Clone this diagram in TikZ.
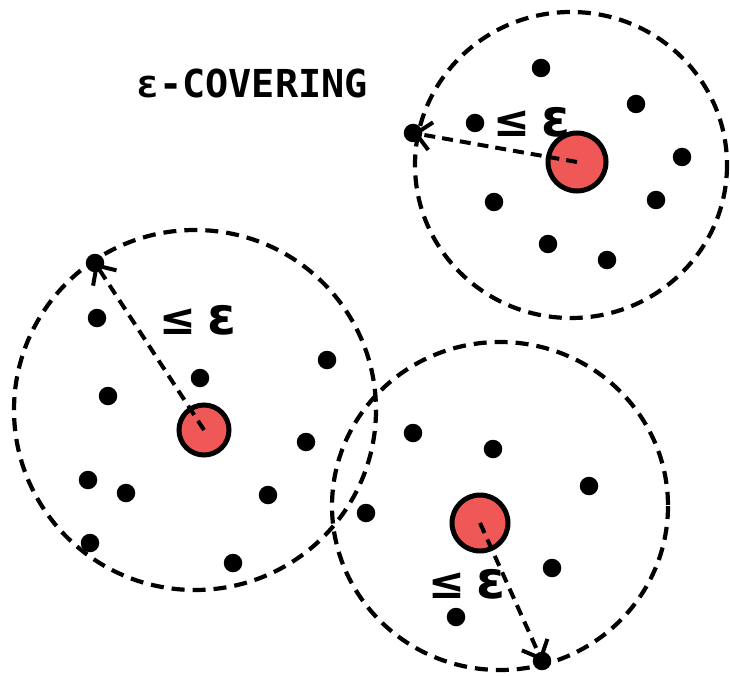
\documentclass[tikz,border=0pt]{standalone}
\usepackage{fontspec}
\setmainfont{DejaVu Sans}
\newfontfamily\monof{DejaVu Sans Mono}
\usetikzlibrary{arrows.meta}
\definecolor{redfill}{RGB}{240,88,88}
\newcommand{\leeps}{{\fontsize{44}{44}\selectfont ≤}\hspace{11pt}{\fontsize{52}{52}\selectfont ε}}
\begin{document}
\begin{tikzpicture}[x=1pt,y=-1pt,
  ring/.style={draw=black,line width=4.2pt,dash pattern=on 13pt off 8pt},
  pt/.style={circle,fill=black,inner sep=0pt,minimum size=18.5pt},
  center/.style={circle,draw=black,line width=5pt,fill=redfill,inner sep=0pt},
  radius line/.style={line width=4pt,dash pattern=on 11pt off 7pt,-{Straight Barb[length=15pt,width=28pt,line width=4pt]}},
  lab/.style={font=\bfseries,inner sep=0pt}]
\useasboundingbox (0,0) rectangle (730,676);
% circles
\draw[ring] (571,165) ellipse [x radius=156,y radius=153];
\draw[ring] (195,410) ellipse [x radius=181,y radius=180];
\draw[ring] (500,506) ellipse [x radius=168,y radius=164];
% title
\node[font=\monof\bfseries\fontsize{38.5}{38.5}\selectfont,inner sep=0pt] (title) at (252,83) {ε-COVERING};
% top-right dots
\foreach \n/\x/\y in {a1/541/68,a2/475/123,a3/636/104,a4/682/157,a5/494/202,a6/656/200,a7/548/244,a8/607/260}
  \node[pt] (\n) at (\x,\y) {};
\node[pt] (ea) at (413,133) {};
% left dots
\foreach \n/\x/\y in {b1/97/318,b2/327/360,b3/200/378,b4/108/396,b5/306/442,b6/88/480,b7/126/493,b8/268/495,b9/90/543,b10/233/563}
  \node[pt] (\n) at (\x,\y) {};
\node[pt] (eb) at (95,263) {};
% bottom-right dots
\foreach \n/\x/\y in {c1/413/433,c2/493/449,c3/589/486,c4/366/513,c5/552/568,c6/456/617}
  \node[pt] (\n) at (\x,\y) {};
\node[pt] (ec) at (542,661) {};
% centres
\node[center,minimum size=58pt] (ra) at (577,162) {};
\node[center,minimum size=50pt] (rb) at (204,430) {};
\node[center,minimum size=56pt] (rc) at (480,523) {};
% radii
\draw[radius line] (ra.center) -- (ea.center);
\draw[radius line] (rb.center) -- (eb.center);
\draw[radius line] (rc.center) -- (ec.center);
% labels
\node[lab] (la) at (532,122) {\leeps};
\node[lab] (lb) at (198,320) {\leeps};
\node[lab] (lc) at (467,584) {\leeps};
\end{tikzpicture}
\end{document}
